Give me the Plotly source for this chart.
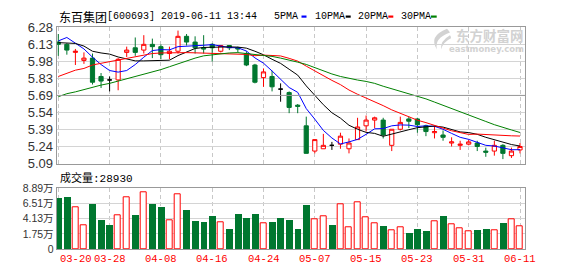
import numpy as np
import plotly.graph_objects as go

# ---------------- data ----------------
opens = [6.15, 6.13, 6.06, 5.99, 6.01, 5.85, 5.82, 5.82, 6.06, 6.10,
         6.08, 6.13, 6.11, 6.05, 6.07, 6.20, 6.15, 6.10, 6.13, 6.07,
         6.12, 6.10, 6.05, 5.95, 5.84, 5.85, 5.74, 5.71, 5.60, 5.42,
         5.20, 5.22, 5.25, 5.26, 5.22, 5.30, 5.42, 5.47, 5.47, 5.25,
         5.39, 5.48, 5.48, 5.42, 5.36, 5.34, 5.27, 5.25, 5.26, 5.27,
         5.20, 5.20, 5.25, 5.16, 5.21]
highs = [6.22, 6.14, 6.09, 6.06, 6.05, 5.88, 5.85, 6.01, 6.11, 6.19,
         6.21, 6.18, 6.13, 6.11, 6.25, 6.22, 6.20, 6.21, 6.14, 6.12,
         6.12, 6.11, 6.07, 5.96, 5.92, 5.90, 5.79, 5.72, 5.61, 5.50,
         5.30, 5.35, 5.28, 5.36, 5.31, 5.49, 5.51, 5.50, 5.49, 5.39,
         5.50, 5.50, 5.49, 5.43, 5.42, 5.38, 5.32, 5.29, 5.30, 5.29,
         5.23, 5.29, 5.26, 5.23, 5.27]
lows = [6.03, 6.04, 5.95, 5.96, 5.78, 5.75, 5.72, 5.73, 6.02, 6.03,
        6.05, 6.01, 6.00, 6.00, 6.05, 6.12, 6.05, 6.05, 5.98, 6.06,
        6.08, 6.06, 5.94, 5.79, 5.76, 5.72, 5.63, 5.53, 5.53, 5.18,
        5.18, 5.22, 5.21, 5.22, 5.18, 5.30, 5.37, 5.40, 5.31, 5.20,
        5.38, 5.40, 5.36, 5.33, 5.31, 5.29, 5.24, 5.21, 5.25, 5.20,
        5.15, 5.16, 5.13, 5.14, 5.18]
closes = [6.13, 6.08, 6.07, 6.01, 5.80, 5.81, 5.82, 6.00, 6.08, 6.06,
          6.13, 6.11, 6.04, 6.07, 6.20, 6.15, 6.10, 6.09, 6.10, 6.12,
          6.10, 6.09, 5.95, 5.80, 5.89, 5.76, 5.74, 5.58, 5.59, 5.18,
          5.30, 5.25, 5.25, 5.33, 5.27, 5.41, 5.47, 5.49, 5.34, 5.39,
          5.45, 5.46, 5.43, 5.37, 5.37, 5.32, 5.28, 5.26, 5.28, 5.24,
          5.19, 5.25, 5.18, 5.20, 5.24]

ma5 = [6.160, 6.190, 6.140, 6.090, 6.018, 5.954, 5.902, 5.888, 5.902, 5.954,
       6.018, 6.076, 6.084, 6.082, 6.110, 6.114, 6.112, 6.122, 6.128, 6.112,
       6.102, 6.100, 6.072, 6.012, 5.966, 5.898, 5.828, 5.754, 5.712, 5.570,
       5.478, 5.380, 5.314, 5.262, 5.280, 5.302, 5.346, 5.394, 5.396, 5.420,
       5.428, 5.426, 5.414, 5.420, 5.416, 5.390, 5.354, 5.320, 5.302, 5.276,
       5.250, 5.244, 5.228, 5.212, 5.212]
ma10 = [6.145, 6.142, 6.138, 6.115, 6.070, 6.055, 6.045, 6.020, 6.000, 5.986,
        5.986, 5.989, 5.986, 5.992, 6.032, 6.066, 6.094, 6.103, 6.105, 6.111,
        6.108, 6.106, 6.097, 6.070, 6.039, 6.000, 5.964, 5.913, 5.862, 5.768,
        5.688, 5.604, 5.534, 5.487, 5.425, 5.390, 5.363, 5.354, 5.329, 5.350,
        5.365, 5.386, 5.404, 5.408, 5.418, 5.409, 5.390, 5.367, 5.361, 5.346,
        5.320, 5.299, 5.274, 5.257, 5.244]
ma20 = [5.850, 5.880, 5.905, 5.920, 5.950, 5.965, 5.980, 5.990, 6.010, 6.025,
        6.040, 6.050, 6.055, 6.058, 6.060, 6.058, 6.056, 6.054, 6.052, 6.049,
        6.047, 6.048, 6.042, 6.031, 6.036, 6.033, 6.029, 6.008, 5.984, 5.940,
        5.898, 5.855, 5.816, 5.779, 5.732, 5.695, 5.664, 5.634, 5.596, 5.559,
        5.527, 5.495, 5.469, 5.448, 5.422, 5.400, 5.377, 5.361, 5.345, 5.348,
        5.343, 5.343, 5.339, 5.333, 5.331]
ma30 = [5.674, 5.700, 5.716, 5.735, 5.760, 5.775, 5.790, 5.810, 5.830, 5.845,
        5.865, 5.890, 5.910, 5.935, 5.960, 5.990, 6.010, 6.030, 6.040, 6.050,
        6.055, 6.058, 6.050, 6.045, 6.035, 6.025, 6.010, 5.995, 5.975, 5.955,
        5.927, 5.900, 5.872, 5.850, 5.832, 5.819, 5.807, 5.790, 5.765, 5.743,
        5.720, 5.699, 5.678, 5.655, 5.627, 5.600, 5.572, 5.545, 5.517, 5.488,
        5.458, 5.430, 5.404, 5.384, 5.362]

# volume in 万 (10k shares)
volumes = [7.30, 7.45, 5.92, 3.09, 6.36, 3.83, 3.14, 4.73, 7.41, 4.73,
           8.30, 6.36, 5.97, 3.83, 7.95, 5.47, 3.69, 3.54, 4.43, 3.49,
           2.50, 4.88, 4.13, 4.88, 3.34, 3.54, 4.13, 3.83, 2.50, 6.22,
           4.09, 4.53, 3.09, 6.32, 2.75, 6.77, 4.38, 3.34, 2.94, 2.30,
           2.79, 1.90, 2.50, 2.20, 3.79, 4.58, 3.19, 2.64, 2.20, 2.35,
           2.50, 2.30, 3.39, 4.09, 2.893]

price_ticklabels = ["5.09", "5.24", "5.39", "5.54", "5.69", "5.83", "5.98", "6.13", "6.28"]
price_min, price_max = 5.09, 6.28
vol_ticklabels = ["0", "1.75万", "4.13万", "6.51万", "8.89万"]
vol_max, vol_step = 8.89, 2.38
date_labels = ["03-20", "03-28", "04-08", "04-16", "04-24",
               "05-07", "05-15", "05-23", "05-31", "06-11"]
date_label_pos = [0, 6, 12, 18, 24, 30, 36, 42, 48, 54]

title_name = "东百集团"
title_rest = "[600693] 2019-06-11 13:44"
ma_names = ["5PMA", "10PMA", "20PMA", "30PMA"]
vol_title = "成交量:28930"
wm_cn = "东方财富网"
wm_en = "eastmoney.com"

# ---------------- styling ----------------
W, H = 578, 276
RED = "#ff0000"
GREEN = "#00772f"
MA_COLORS = ["#0000ff", "#000000", "#ff0000", "#008000"]
FRAME = "#999999"
GRID = "#d4d4d4"
VGRID = "#c8c8c8"
WM = "#d2d2d2"
MONO = "Liberation Mono, Noto Sans CJK SC, monospace"
CJK = "Noto Sans CJK SC"


def px(xp):
    return xp / W


def py(yp):
    return 1 - yp / H


X_LEFT, X_RIGHT = 56.7, 525.3
PRICE_TOP, PRICE_BOT = 21.3, 165.7
VOL_TOP, VOL_BOT = 191.7, 256.0

n = len(closes)
xs = list(range(n))
x_range = [-0.187, 54.62]

up = [i for i in xs if closes[i] > opens[i]]
dn = [i for i in xs if closes[i] < opens[i]]
dj = [i for i in xs if closes[i] == opens[i]]


def sub(arr, idx):
    return [arr[i] for i in idx]


fig = go.Figure()

for idx, lc, fc in [(up, RED, "white"), (dn, GREEN, GREEN), (dj, "#000000", "#000000")]:
    fig.add_trace(go.Candlestick(
        x=idx, open=sub(opens, idx), high=sub(highs, idx), low=sub(lows, idx),
        close=sub(closes, idx),
        increasing=dict(line=dict(color=lc, width=1), fillcolor=fc),
        decreasing=dict(line=dict(color=lc, width=1), fillcolor=fc),
        whiskerwidth=0, xaxis="x", yaxis="y", hoverinfo="skip", showlegend=False))

for ma, col in zip([ma5, ma10, ma20, ma30], MA_COLORS):
    fig.add_trace(go.Scatter(x=xs, y=ma, mode="lines", line=dict(color=col, width=1),
                             xaxis="x", yaxis="y", hoverinfo="skip", showlegend=False))

vol_base = vol_max - 4 * vol_step
vol_up = [i for i in xs if closes[i] > opens[i]]
vol_dn = [i for i in xs if closes[i] <= opens[i]]
fig.add_trace(go.Bar(x=vol_dn, y=[volumes[i] - vol_base for i in vol_dn], base=vol_base,
                     width=0.8, marker=dict(color=GREEN, line=dict(width=0)),
                     xaxis="x2", yaxis="y2", hoverinfo="skip", showlegend=False))
fig.add_trace(go.Bar(x=vol_up, y=[volumes[i] - vol_base for i in vol_up], base=vol_base,
                     width=0.7, marker=dict(color="white", line=dict(color=RED, width=1)),
                     xaxis="x2", yaxis="y2", hoverinfo="skip", showlegend=False))

price_tickvals = list(np.linspace(price_min, price_max, len(price_ticklabels)))
vol_tickvals = [vol_base + k * vol_step for k in range(len(vol_ticklabels))]

xaxis_common = dict(range=x_range, domain=[px(X_LEFT), px(X_RIGHT)],
                    tickvals=date_label_pos, showticklabels=False, ticks="",
                    showgrid=True, gridcolor=VGRID, griddash="4px,3px", gridwidth=1,
                    showline=True, mirror=True, linecolor=FRAME, linewidth=1,
                    zeroline=False, fixedrange=True)

fig.update_layout(
    width=W, height=H, margin=dict(l=0, r=0, t=0, b=0),
    paper_bgcolor="white", plot_bgcolor="white", hovermode=False,
    barmode="overlay", bargap=0,
    xaxis=dict(**xaxis_common, anchor="y", rangeslider=dict(visible=False)),
    yaxis=dict(domain=[py(PRICE_BOT), py(PRICE_TOP)], range=[price_min, price_max],
               tickvals=price_tickvals, ticktext=price_ticklabels, ticks="",
               tickfont=dict(family="Liberation Sans, Arial", size=13, color="#333333"),
               showgrid=True, gridcolor=GRID, gridwidth=1, zeroline=False,
               showline=True, mirror=True, linecolor=FRAME, linewidth=1, anchor="x",
               fixedrange=True),
    xaxis2=dict(**xaxis_common, anchor="y2"),
    yaxis2=dict(domain=[py(VOL_BOT), py(VOL_TOP)], range=[vol_base, vol_max],
                tickvals=vol_tickvals, ticktext=vol_ticklabels, ticks="",
                tickfont=dict(family="Liberation Sans, Noto Sans CJK SC", size=10.5, color="#333333"),
                showgrid=True, gridcolor=GRID, gridwidth=1, zeroline=False,
                showline=True, mirror=True, linecolor=FRAME, linewidth=1, anchor="x2",
                fixedrange=True),
)

# darker middle line of the price panel
fig.add_shape(type="line", xref="paper", yref="y", x0=px(X_LEFT), x1=px(X_RIGHT),
              y0=price_tickvals[4], y1=price_tickvals[4], line=dict(color=FRAME, width=1))

annots = []
# header
annots.append(dict(text=title_name, x=px(57), y=py(10.5), xanchor="left", yanchor="middle",
                   font=dict(family=CJK, size=12, color="#000000")))
annots.append(dict(text=title_rest, x=px(105), y=py(10.5), xanchor="left", yanchor="middle",
                   font=dict(family=MONO, size=10, color="#000000")))
name_x = [272, 313, 356, 399]
dash_x = [(301.5, 306.5), (345.7, 350.7), (388.3, 393.3), (431, 436.7)]
for name, nx, (d0, d1), col in zip(ma_names, name_x, dash_x, MA_COLORS):
    annots.append(dict(text=name, x=px(nx), y=py(10.5), xanchor="left", yanchor="middle",
                       font=dict(family=MONO, size=10, color="#000000")))
    fig.add_shape(type="rect", xref="paper", yref="paper", x0=px(d0), x1=px(d1),
                  y0=py(11.3), y1=py(9.0), line=dict(width=0), fillcolor=col)

# volume title
annots.append(dict(text=vol_title, x=px(57.5), y=py(180.8), xanchor="left", yanchor="middle",
                   font=dict(family=MONO, size=11, color="#000000")))

# date labels
for k, (lab, pos) in enumerate(zip(date_labels, date_label_pos)):
    annots.append(dict(text=lab, x=pos, xref="x2", y=py(266.7), yref="paper",
                       xanchor="left" if k == 0 else "center", yanchor="middle",
                       font=dict(family=MONO, size=10.5, color=RED)))

# watermark
annots.append(dict(text="<b>" + wm_cn + "</b>", x=px(526), y=py(29.2), xanchor="right",
                   yanchor="middle", font=dict(family=CJK, size=13.5, color=WM)))
annots.append(dict(text="<b>" + wm_en + "</b>", x=px(526), y=py(44.6), xanchor="right",
                   yanchor="middle", font=dict(family="DejaVu Sans", size=8.5, color=WM)))


# watermark logo (swoosh)
def path_px(pts):
    s = "M %f,%f" % (px(pts[0][0]), py(pts[0][1]))
    for a, b, c, d in pts[1:]:
        s += " Q %f,%f %f,%f" % (px(a), py(b), px(c), py(d))
    return s + " Z"


fig.add_shape(type="path", xref="paper", yref="paper",
              path=path_px([(447, 23), (428, 31, 437, 45), (434, 33, 450, 27), (449, 25, 447, 23)]),
              fillcolor=WM, line=dict(width=0), layer="below")
fig.add_shape(type="path", xref="paper", yref="paper",
              path=path_px([(450, 30), (440, 36, 441, 45), (443, 37, 451, 33), (451, 31, 450, 30)]),
              fillcolor=WM, line=dict(width=0), layer="below")

for a in annots:
    a.setdefault("xref", "paper")
    a.setdefault("yref", "paper")
    a["showarrow"] = False
fig.update_layout(annotations=annots)

fig.write_html("out.html")
